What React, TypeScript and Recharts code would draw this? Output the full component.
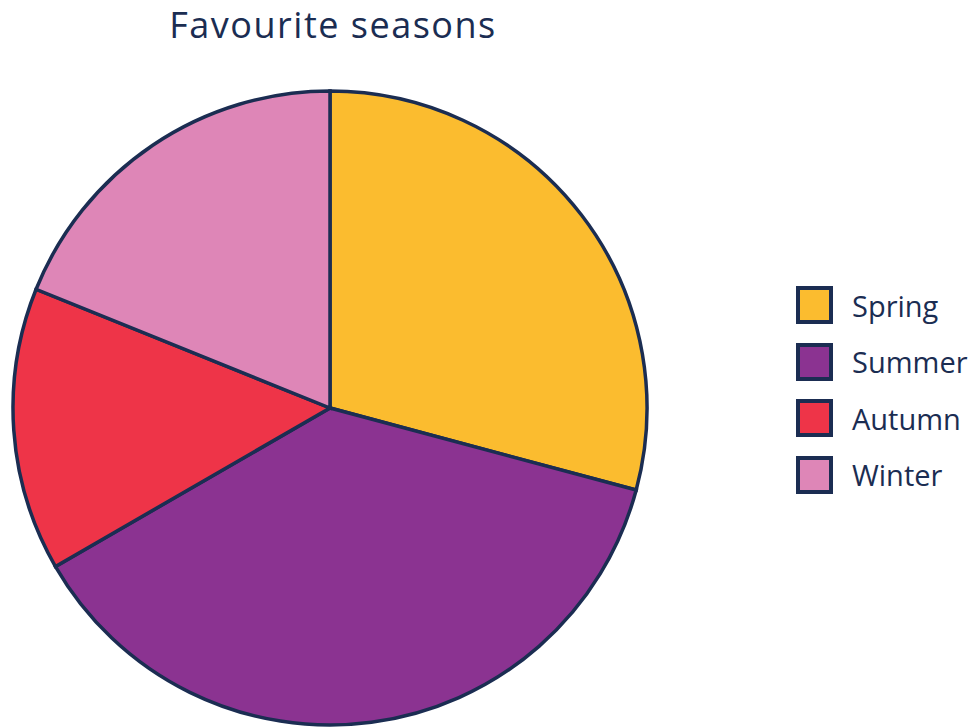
import { PieChart, Pie, Cell, Legend } from "recharts";

// Favourite seasons (slice sizes read as degrees of the circle)
const seasons = ["Spring", "Summer", "Autumn", "Winter"];
const votes = [105, 135, 52, 68];
const colors = ["#FBBC2F", "#8B3391", "#EE3448", "#DE86B7"];

const data = seasons.map((name, i) => ({ name, value: votes[i] }));

const NAVY = "#1B2D52";
const FONT = "'Open Sans', 'Noto Sans', sans-serif";

function SeasonLegend() {
  return (
    <div style={{ fontFamily: FONT }}>
      {seasons.map((s, i) => (
        <div key={s} style={{ display: "flex", alignItems: "center", height: 56.5 }}>
          <div
            style={{
              width: 29,
              height: 30,
              background: colors[i],
              border: `4px solid ${NAVY}`,
              marginRight: 19,
            }}
          />
          <span style={{ fontSize: 29, color: NAVY, lineHeight: 1 }}>{s}</span>
        </div>
      ))}
    </div>
  );
}

export default function App() {
  return (
    <div style={{ position: "absolute", left: 0, top: 0, width: 976, height: 728 }}>
      <div
        style={{
          position: "absolute",
          left: 0,
          width: 666,
          top: 0,
          textAlign: "center",
          fontFamily: FONT,
          fontSize: 36,
          letterSpacing: 1.5,
          color: NAVY,
        }}
      >
        Favourite seasons
      </div>
      <PieChart width={976} height={728} margin={{ top: 0, right: 0, bottom: 0, left: 0 }}>
        <Pie
          data={data}
          dataKey="value"
          nameKey="name"
          cx={330}
          cy={408}
          outerRadius={317}
          startAngle={90}
          endAngle={-270}
          stroke={NAVY}
          strokeWidth={3.5}
          isAnimationActive={false}
        >
          {data.map((d, i) => (
            <Cell key={d.name} fill={colors[i]} />
          ))}
        </Pie>
        <Legend
          layout="vertical"
          align="right"
          verticalAlign="middle"
          content={() => <SeasonLegend />}
          wrapperStyle={{ left: 796, top: 277, width: 180 }}
        />
      </PieChart>
    </div>
  );
}
